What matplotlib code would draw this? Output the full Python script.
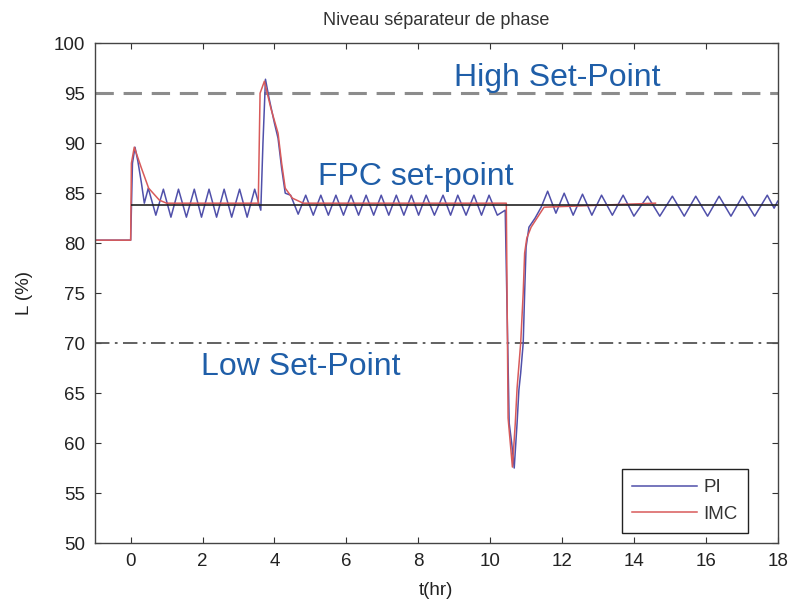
import matplotlib
matplotlib.use("Agg")
import matplotlib.pyplot as plt

plt.rcParams['font.family'] = ['Liberation Sans', 'DejaVu Sans']

# ---- data ----
pi_t = [-1, 0.0, 0.05, 0.12, 0.2, 0.3, 0.38, 0.49, 0.70, 0.91, 1.12, 1.33, 1.55, 1.77, 1.97,
        2.18, 2.39, 2.60, 2.81, 3.03, 3.24, 3.45, 3.62, 3.68, 3.75, 3.85, 4.0, 4.1, 4.2, 4.3,
        4.45, 4.66, 4.87, 5.08, 5.29, 5.50, 5.71, 5.92, 6.13, 6.34, 6.55, 6.76, 6.97, 7.18,
        7.39, 7.60, 7.81, 8.01, 8.22, 8.45, 8.69, 8.90, 9.10, 9.33, 9.55, 9.76, 9.97, 10.2,
        10.42, 10.53, 10.6, 10.67, 10.75, 10.8, 10.85, 10.92, 10.96, 11.0, 11.08, 11.25, 11.42,
        11.6, 11.83, 12.06, 12.31, 12.57, 12.83, 13.1, 13.4, 13.7, 14.0, 14.38, 14.72, 15.07,
        15.4, 15.72, 16.05, 16.37, 16.7, 17.02, 17.36, 17.71, 17.9, 18.0]
pi_L = [80.3, 80.3, 88.0, 89.6, 88.2, 86.0, 84.0, 85.5, 82.8, 85.4, 82.6, 85.4, 82.6, 85.4, 82.6,
        85.4, 82.6, 85.4, 82.6, 85.4, 82.6, 85.4, 83.3, 90.0, 96.4, 94.5, 92.0, 90.5, 87.5, 85.0,
        84.8, 82.9, 84.8, 82.8, 84.8, 82.8, 84.8, 82.8, 84.8, 82.8, 84.8, 82.8, 84.8, 82.8,
        84.8, 82.8, 84.8, 82.8, 84.8, 82.8, 84.8, 82.8, 84.8, 82.8, 84.8, 82.8, 84.8, 82.8,
        83.3, 62.0, 60.0, 57.5, 62.0, 65.3, 67.0, 70.0, 75.0, 79.6, 81.6, 82.5, 83.6,
        85.2, 83.0, 85.0, 82.8, 84.9, 82.8, 84.8, 82.8, 84.8, 82.7, 84.7, 82.7, 84.7,
        82.7, 84.7, 82.7, 84.7, 82.7, 84.7, 82.7, 84.8, 83.5, 84.2]

imc_t = [-1, 0.0, 0.02, 0.10, 0.30, 0.50, 0.80, 1.0, 3.55, 3.60, 3.72, 3.90, 4.10, 4.20, 4.30,
         4.50, 4.80, 10.45, 10.50, 10.62, 10.70, 10.75, 10.85, 10.92, 10.96, 11.02, 11.14, 11.5, 14.6]
imc_L = [80.3, 80.3, 88.0, 89.6, 87.5, 85.5, 84.3, 84.0, 84.0, 95.0, 96.2, 93.5, 91.0, 88.0, 85.5,
         84.5, 84.0, 84.0, 62.5, 57.6, 62.0, 65.5, 70.0, 75.0, 79.0, 80.5, 81.6, 83.6, 84.0]

fpc_setpoint = 83.8
high_setpoint = 95
low_setpoint = 70
x_ticks = [0, 2, 4, 6, 8, 10, 12, 14, 16, 18]
y_ticks = [50, 55, 60, 65, 70, 75, 80, 85, 90, 95, 100]

# ---- figure ----
fig = plt.figure(figsize=(7.96, 6.01), dpi=100)
ax = fig.add_axes([0.119, 0.0965, 0.858, 0.8315])

ax.axhline(high_setpoint, color='#8c8c8c', lw=2.2, ls=(0, (6, 3.2)))
ax.axhline(low_setpoint, color='#555555', lw=1.3, ls=(0, (8, 3, 1.5, 3)))

l1, = ax.plot(pi_t, pi_L, color='#5050aa', lw=1.1, label='PI')
l2, = ax.plot(imc_t, imc_L, color='#d85a5a', lw=1.1, label='IMC')
ax.hlines(fpc_setpoint, 0, 18, color='#222222', lw=1.2, zorder=2.5)

ax.set_xlim(-1, 18)
ax.set_ylim(50, 100)
ax.set_xticks(x_ticks)
ax.set_yticks(y_ticks)
ax.tick_params(direction='in', top=True, right=True, length=4, labelsize=13.5,
               colors='#333333', labelcolor='#222222', pad=7)
for s in ax.spines.values():
    s.set_color('#444444')
    s.set_linewidth(1.0)

ax.set_xlabel('t(hr)', fontsize=13.5, color='#222222', labelpad=9)
ax.set_ylabel('L (%)', fontsize=13.5, color='#222222', labelpad=15)
ax.set_title('Niveau séparateur de phase', fontsize=13, color='#333333', pad=13)

txt_color = '#1f5ea8'
ax.text(9.0, 95.7, 'High Set-Point', fontsize=23, color=txt_color)
ax.text(5.2, 85.8, 'FPC set-point', fontsize=23, color=txt_color)
ax.text(1.97, 66.8, 'Low Set-Point', fontsize=23, color=txt_color)

leg = ax.legend(handles=[l1, l2], loc='lower right', bbox_to_anchor=(0.956, 0.02),
                fontsize=13.5, fancybox=False, edgecolor='#222222', framealpha=1,
                borderaxespad=0, handlelength=3.5, labelspacing=0.5, handletextpad=0.3,
                borderpad=0.55, labelcolor='#333333')
leg.get_frame().set_linewidth(1.0)

fig.savefig('out.png', dpi=100)
